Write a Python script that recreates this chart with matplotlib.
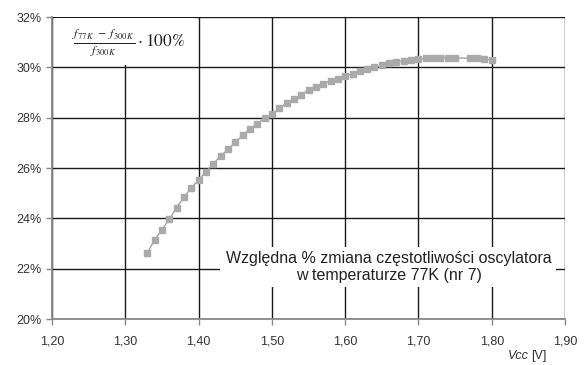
import matplotlib
matplotlib.use("Agg")
import matplotlib.pyplot as plt
from matplotlib.patches import Rectangle
from matplotlib.ticker import FuncFormatter, MultipleLocator

# napięcie zasilania [V] i względna zmiana częstotliwości [%]
vcc = [1.33, 1.34, 1.35, 1.36, 1.37, 1.38, 1.39, 1.40, 1.41, 1.42,
       1.43, 1.44, 1.45, 1.46, 1.47, 1.48, 1.49, 1.50, 1.51, 1.52,
       1.53, 1.54, 1.55, 1.56, 1.57, 1.58, 1.59, 1.60, 1.61, 1.62,
       1.63, 1.64, 1.65, 1.66, 1.67, 1.68, 1.69, 1.70, 1.71, 1.72,
       1.73, 1.74, 1.75, 1.77, 1.78, 1.79, 1.80]
zmiana = [22.62, 23.15, 23.55, 23.97, 24.43, 24.84, 25.22, 25.52, 25.85, 26.17,
          26.48, 26.74, 27.02, 27.30, 27.56, 27.76, 27.98, 28.14, 28.38, 28.58,
          28.75, 28.92, 29.10, 29.24, 29.36, 29.47, 29.56, 29.65, 29.75, 29.84,
          29.93, 30.00, 30.08, 30.16, 30.22, 30.26, 30.30, 30.33, 30.36, 30.37,
          30.38, 30.38, 30.38, 30.37, 30.36, 30.33, 30.30]

opis = "Względna % zmiana częstotliwości oscylatora\nw temperaturze 77K (nr 7)"
wzor = r"$\frac{f_{77\,K}\;-\;f_{300\,K}}{f_{300\,K}}\cdot 100\%$"

plt.rcParams["font.family"] = ["Liberation Sans", "DejaVu Sans"]
plt.rcParams["mathtext.fontset"] = "stix"

fig = plt.figure(figsize=(5.87, 3.65), dpi=100)
ax = fig.add_axes([0.0886, 0.126, 0.874, 0.827])

ax.plot(vcc, zmiana, color="#9a9a9a", lw=0.9, marker="s", ms=4.0,
        mfc="#aaaaaa", mec="#aaaaaa", zorder=3)

ax.set_xlim(1.20, 1.90)
ax.set_ylim(20, 32)
ax.xaxis.set_major_locator(MultipleLocator(0.1))
ax.yaxis.set_major_locator(MultipleLocator(2))
ax.xaxis.set_major_formatter(FuncFormatter(lambda v, p: f"{v:.2f}".replace(".", ",")))
ax.yaxis.set_major_formatter(FuncFormatter(lambda v, p: f"{v:.0f}%"))

ax.grid(True, color="#1a1a1a", lw=1.0)
ax.set_axisbelow(True)
for s in ["top", "right"]:
    ax.spines[s].set_visible(False)
for s in ["left", "bottom"]:
    ax.spines[s].set_color("#888888")
    ax.spines[s].set_linewidth(1.3)
ax.tick_params(colors="#888888", length=4, width=1, labelsize=9,
               labelcolor="#333333")
ax.tick_params(axis="x", pad=8)

# białe tła pod opisami
ax.add_patch(Rectangle((0.003, 0.841), 0.276, 0.155, transform=ax.transAxes,
                       fc="white", ec="none", zorder=1))
ax.add_patch(Rectangle((0.327, 0.106), 0.655, 0.132, transform=ax.transAxes,
                       fc="white", ec="none", zorder=1))

ax.text(0.15, 0.915, wzor, transform=ax.transAxes, ha="center", va="center",
        fontsize=12.5, color="#222222", zorder=4)
ax.text(0.657, 0.172, opis, transform=ax.transAxes, ha="center", va="center",
        fontsize=11.5, color="#222222", linespacing=1.1, zorder=4)

fig.text(546 / 587, 1 - 356 / 365, "[V]", ha="right", va="center",
         fontsize=9, color="#333333")
fig.text(529 / 587, 1 - 356 / 365, "Vcc", ha="right", va="center",
         fontsize=9, color="#333333", style="italic")

fig.savefig("out.png", dpi=100)
